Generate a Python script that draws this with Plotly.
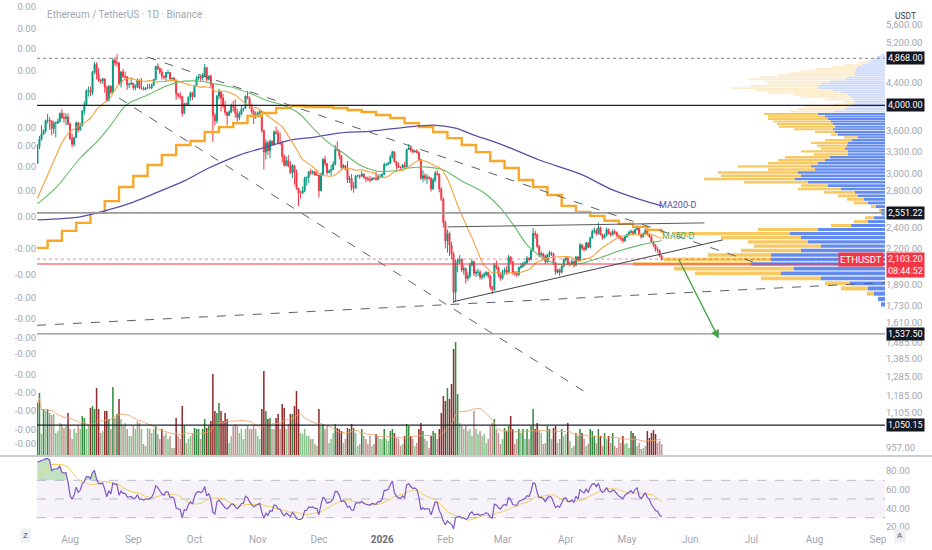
import numpy as np
import pandas as pd
import plotly.graph_objects as go

# ---------------- data: ETHUSDT 1D, Binance ----------------
start_day = "2025-07-16"
first_open = 3140

# Jun 26 -> Jul 15 2025, only used to warm up MA20 / RSI
pre_closes = [2420, 2420, 2435, 2500, 2485, 2405, 2570, 2590, 2505, 2515,
              2570, 2540, 2615, 2770, 2950, 2960, 2945, 2970, 3015, 3140]

closes = [
    3370, 3475, 3550, 3590, 3755, 3760, 3745, 3630, 3710, 3720, 3745, 3870, 3800, 3790, 3810, 3700,
    3480, 3400, 3495, 3720, 3610, 3680, 3910, 4010, 4255, 4260, 4220, 4600, 4750, 4550, 4440, 4430,
    4470, 4315, 4085, 4335, 4230, 4830, 4780, 4780, 4380, 4600, 4510, 4510, 4360, 4370, 4390,
    4310, 4330, 4450, 4300, 4300, 4275, 4305, 4310, 4305, 4350, 4460, 4710, 4670, 4600, 4520,
    4500, 4590, 4590, 4470, 4480, 4450, 4200, 4170, 4150, 3870, 4030, 4010, 4140, 4215, 4145,
    4350, 4480, 4515, 4490, 4515, 4685, 4460, 4525, 4370, 3835, 3750, 4160, 4240, 4125, 3990,
    3885, 3835, 3890, 3985, 3980, 3875, 3800, 3855, 3935, 3950, 4160, 4120, 3985, 3900, 3810, 3850,
    3875, 3900, 3600, 3290, 3420, 3310, 3440, 3395, 3580, 3560, 3420, 3410, 3230, 3110, 3175,
    3100, 3020, 3110, 3020, 2830, 2770, 2770, 2800, 2950, 2960, 3030, 3020, 3030, 2990, 2990,
    2800, 3000, 3190, 3135, 3020, 3040, 3060, 3130, 3325, 3320, 3240, 3085, 3110, 3060, 2930,
    2950, 2830, 2830, 2975, 2980, 2975, 3000, 2960, 2945, 2930, 2925, 2950, 2945, 2935, 2970, 2970,
    3000, 3125, 3125, 3140, 3225, 3295, 3160, 3110, 3085, 3080, 3115, 3090, 3325, 3350, 3320,
    3290, 3305, 3285, 3190, 2950, 2980, 2950, 2960, 2950, 2820, 2930, 3010, 3000, 2820, 2700, 2450,
    2270, 2340, 2230, 2150, 1830, 2070, 2090, 2100, 2010, 2020, 1940, 1960, 2050, 2080,
    1980, 1990, 1990, 1950, 1960, 1970, 1990, 1960, 1870, 1850, 2050, 2030, 1970, 1940,
    1990, 2010, 1990, 2120, 2080, 1990, 1980, 1970, 2030, 2040, 2060, 2070, 2110, 2100, 2180,
    2340, 2330, 2220, 2140, 2150, 2130, 2080, 2140, 2160, 2150, 2070, 1990, 2010, 1990, 2040, 2100,
    2110, 2060, 2060, 2080, 2050, 2120, 2090, 2230, 2200, 2190, 2250, 2210, 2300, 2360, 2370,
    2340, 2400, 2330, 2300, 2320, 2380, 2340, 2330, 2360, 2350, 2320, 2300, 2290, 2270, 2310,
    2330, 2350, 2360, 2340, 2380, 2400, 2330, 2310, 2340, 2370, 2330, 2310, 2260, 2230, 2190,
    2180, 2130, 2103.2,
]
highs = [
    3400, 3520, 3680, 3620, 3770, 3860, 3810, 3760, 3750, 3740, 3790, 3880, 3940, 3880, 3870, 3870,
    3720, 3550, 3510, 3740, 3730, 3720, 3920, 4070, 4280, 4330, 4330, 4620, 4790, 4790, 4680, 4475,
    4490, 4470, 4340, 4360, 4350, 4880, 4890, 4956, 4780, 4620, 4660, 4610, 4520, 4400, 4490,
    4400, 4370, 4480, 4460, 4490, 4330, 4320, 4380, 4380, 4380, 4470, 4720, 4770, 4690, 4670,
    4530, 4600, 4640, 4600, 4500, 4510, 4450, 4210, 4230, 4160, 4040, 4050, 4150, 4240, 4240,
    4360, 4520, 4550, 4520, 4580, 4755, 4700, 4530, 4550, 4390, 3880, 4180, 4290, 4210, 4200,
    4080, 3900, 3920, 4030, 4080, 4100, 3940, 3900, 3990, 3960, 4170, 4250, 4150, 4030, 3930, 3900,
    3900, 3920, 3910, 3610, 3470, 3450, 3470, 3460, 3600, 3660, 3610, 3570, 3450, 3260, 3230,
    3250, 3170, 3130, 3110, 3060, 2820, 2800, 2850, 2970, 2970, 3040, 3070, 3050, 3035, 3060,
    2990, 3020, 3210, 3240, 3140, 3060, 3120, 3170, 3390, 3440, 3320, 3250, 3130, 3110, 3170,
    2980, 3000, 2900, 2990, 2995, 2995, 3040, 3010, 2965, 2970, 2980, 2960, 2960, 3030, 3000, 3000,
    3010, 3150, 3140, 3160, 3250, 3310, 3300, 3170, 3150, 3100, 3130, 3160, 3340, 3400, 3370,
    3340, 3320, 3330, 3300, 3200, 3050, 3010, 3000, 2980, 2960, 2950, 3040, 3050, 3010, 2840, 2720,
    2470, 2380, 2360, 2260, 2170, 2100, 2110, 2140, 2110, 2050, 2030, 1990, 2070, 2100,
    2090, 2010, 2020, 2010, 1980, 1990, 2000, 1990, 1970, 1880, 2070, 2090, 2040, 1990,
    2010, 2030, 2040, 2140, 2130, 2090, 2000, 2000, 2040, 2070, 2080, 2090, 2130, 2120, 2190,
    2396, 2370, 2340, 2230, 2170, 2160, 2140, 2150, 2180, 2170, 2160, 2080, 2020, 2020, 2050, 2110,
    2130, 2120, 2080, 2100, 2090, 2130, 2130, 2250, 2240, 2220, 2260, 2260, 2310, 2380, 2400,
    2390, 2450, 2410, 2340, 2340, 2400, 2390, 2360, 2380, 2380, 2360, 2330, 2320, 2300, 2320,
    2340, 2370, 2380, 2370, 2390, 2420, 2410, 2340, 2350, 2390, 2380, 2340, 2320, 2270, 2240,
    2210, 2190, 2140,
]
lows = [
    3140, 3330, 3450, 3530, 3560, 3710, 3610, 3530, 3550, 3500, 3700, 3720, 3780, 3720, 3680, 3680,
    3460, 3355, 3370, 3490, 3570, 3600, 3660, 3850, 4000, 4150, 4160, 4180, 4570, 4460, 4410, 4380,
    4380, 4220, 4060, 4070, 4190, 4210, 4720, 4700, 4350, 4310, 4490, 4440, 4270, 4300, 4370,
    4270, 4260, 4300, 4280, 4270, 4260, 4260, 4280, 4290, 4280, 4340, 4440, 4640, 4560, 4460,
    4460, 4420, 4560, 4450, 4460, 4440, 4090, 4120, 4100, 3820, 3880, 3990, 3990, 4080, 4090,
    4140, 4340, 4450, 4430, 4440, 4500, 4420, 4440, 4300, 3435, 3680, 3710, 4100, 3900, 3950,
    3840, 3680, 3830, 3870, 3900, 3800, 3700, 3760, 3840, 3900, 3940, 4100, 3950, 3860, 3700, 3780,
    3850, 3840, 3570, 3057, 3190, 3250, 3210, 3380, 3380, 3540, 3410, 3390, 3150, 3100, 3120,
    3090, 3000, 2950, 2870, 2810, 2623, 2710, 2770, 2780, 2860, 2890, 2990, 2990, 2980, 2975,
    2720, 2790, 2980, 3100, 2990, 3010, 2980, 3050, 3110, 3300, 3190, 3060, 3080, 3050, 2890,
    2890, 2800, 2775, 2820, 2970, 2940, 2970, 2940, 2900, 2920, 2900, 2920, 2930, 2920, 2930, 2950,
    2960, 2990, 3100, 3110, 3130, 3200, 3150, 3060, 3080, 3070, 3075, 3080, 3090, 3320, 3290,
    3270, 3290, 3270, 3170, 2930, 2900, 2920, 2880, 2930, 2790, 2810, 2900, 2980, 2780, 2680, 2400,
    2200, 2160, 2130, 2100, 1750, 1760, 1990, 2060, 1990, 1970, 1900, 1920, 1940, 2040,
    1960, 1950, 1960, 1930, 1930, 1940, 1960, 1940, 1850, 1815, 1840, 2010, 1950, 1920,
    1930, 1970, 1970, 1980, 2060, 1970, 1960, 1950, 1960, 2020, 2030, 2040, 2060, 2080, 2090,
    2170, 2290, 2200, 2120, 2120, 2110, 2060, 2070, 2120, 2130, 2050, 1970, 1980, 1960, 1980, 2030,
    2080, 2050, 2040, 2050, 2030, 2040, 2080, 2080, 2180, 2170, 2180, 2200, 2200, 2290, 2340,
    2320, 2330, 2320, 2280, 2290, 2310, 2330, 2310, 2320, 2330, 2310, 2290, 2270, 2250, 2260,
    2300, 2320, 2340, 2320, 2330, 2370, 2320, 2290, 2300, 2330, 2320, 2300, 2250, 2210, 2170,
    2160, 2120, 2090,
]
# daily volume, thousand ETH
volumes = [
    1060, 1260, 440, 940, 900, 940, 860, 820, 840, 460, 500, 660, 640, 560, 600, 860,
    540, 340, 540, 460, 600, 540, 800, 760, 540, 600, 960, 1000, 940, 1360, 940, 460,
    500, 900, 900, 740, 540, 1380, 760, 840, 1140, 740, 600, 660, 540, 400, 400,
    600, 540, 700, 660, 540, 240, 200, 560, 540, 460, 540, 600, 440, 340, 540,
    400, 460, 340, 400, 160, 160, 760, 400, 340, 1000, 600, 260, 340, 400, 440,
    560, 540, 540, 340, 540, 740, 560, 600, 700, 1640, 900, 860, 1060, 900, 700,
    860, 740, 260, 400, 600, 640, 600, 460, 540, 340, 540, 600, 540, 540, 600, 540,
    400, 340, 940, 1700, 900, 740, 760, 540, 540, 760, 840, 540, 1040, 960, 540,
    640, 840, 840, 1000, 1300, 940, 460, 440, 540, 400, 400, 340, 340, 240, 200,
    940, 600, 640, 540, 600, 260, 340, 460, 640, 560, 540, 500, 260, 340, 560,
    540, 640, 560, 460, 200, 240, 540, 400, 340, 240, 400, 200, 240, 440, 400, 340,
    340, 540, 340, 300, 500, 540, 460, 360, 340, 200, 240, 400, 640, 600, 400,
    340, 200, 260, 540, 660, 500, 340, 300, 160, 400, 500, 460, 340, 540, 860, 1200,
    1100, 1360, 1140, 1440, 2140, 2280, 1240, 660, 600, 540, 600, 500, 540, 400,
    900, 540, 440, 500, 400, 440, 260, 340, 600, 660, 740, 540, 460, 240,
    340, 560, 500, 600, 800, 540, 240, 340, 540, 460, 540, 340, 540, 340, 600,
    940, 540, 660, 500, 460, 240, 260, 600, 540, 340, 560, 600, 260, 340, 540, 400,
    440, 660, 300, 160, 200, 460, 400, 540, 460, 340, 200, 240, 540, 500, 400,
    260, 540, 400, 200, 460, 340, 400, 260, 460, 200, 160, 340, 260, 400, 240,
    260, 160, 500, 460, 400, 200, 260, 140, 160, 200, 500, 360, 460, 520, 440,
    260, 300, 240,
]

# moving averages
ma50_dates = ["2025-07-16", "2025-07-25", "2025-08-06", "2025-08-14", "2025-08-21", "2025-08-27",
              "2025-08-30", "2025-09-08", "2025-09-16", "2025-09-23", "2025-10-03", "2025-10-09",
              "2025-10-19", "2025-10-29", "2025-11-05", "2025-11-13", "2025-11-21", "2025-11-29",
              "2025-12-06", "2025-12-13", "2025-12-21", "2025-12-29", "2026-01-06", "2026-01-14",
              "2026-01-23", "2026-01-31", "2026-02-09", "2026-02-20", "2026-02-28", "2026-03-07",
              "2026-03-13", "2026-03-20", "2026-03-27", "2026-04-02", "2026-04-10", "2026-04-19",
              "2026-04-29", "2026-05-08", "2026-05-18"]
ma50_vals = [2649, 2832, 3210, 3432, 3684, 3956, 4039, 4177, 4320, 4410, 4429, 4391, 4320, 4195,
             4090, 4006, 3874, 3608, 3417, 3277, 3117, 3040, 3040, 3078, 3090, 3053, 2916, 2773,
             2605, 2406, 2232, 2123, 2063, 2054, 2071, 2123, 2186, 2232, 2270]
ma200_dates = ["2025-07-16", "2025-08-06", "2025-08-18", "2025-09-01", "2025-09-12", "2025-09-26",
               "2025-10-08", "2025-10-23", "2025-11-05", "2025-11-17", "2025-11-29", "2025-12-11",
               "2025-12-27", "2026-01-13", "2026-01-26", "2026-02-06", "2026-02-15", "2026-02-28",
               "2026-03-19", "2026-04-08", "2026-04-24", "2026-05-08", "2026-05-18"]
ma200_vals = [2478, 2510, 2572, 2670, 2773, 2916, 3078, 3250, 3360, 3460, 3504, 3563, 3593, 3653,
              3684, 3638, 3533, 3403, 3183, 3003, 2808, 2693, 2627]
wk_start = "2025-07-14"
wk_vals = [2204, 2270, 2366, 2447, 2551, 2680, 2843, 2978, 3117, 3250, 3389, 3446, 3578, 3653,
           3715, 3826, 3874, 3956, 3990, 3972, 3972, 3956, 3923, 3890, 3842, 3794, 3715, 3653,
           3578, 3489, 3389, 3290, 3170, 3078, 2928, 2843, 2750, 2627, 2562, 2520, 2468, 2437,
           2406, 2376, 2347]

# visible range volume profile (rows of 40 USDT, low -> high)
vp_row = 40
vp_prices = np.arange(1740, 4941, vp_row)
vp_up = [4, 7, 11, 17, 35, 64, 104, 91, 134, 114, 114, 84, 64, 77, 84, 95, 67, 34, 17, 11,
         3, 4, 9, 17, 21, 27, 30, 44, 57, 77, 90, 84, 87, 70, 74, 67, 60, 55, 37, 37,
         40, 38, 37, 33, 27, 47, 50, 52, 50, 52, 54, 57, 60, 67, 50, 40, 38, 32, 30, 32,
         34, 37, 44, 52, 67, 66, 64, 55, 40, 36, 30, 30, 30, 29, 27, 22, 17, 14, 11, 8, 4]
vp_down = [0, 0, 7, 27, 25, 60, 86, 120, 118, 107, 63, 60, 67, 60, 80, 116, 60, 20, 14, 9,
           1, 2, 5, 14, 17, 20, 31, 43, 27, 64, 91, 80, 80, 47, 73, 50, 47, 45, 34, 47,
           24, 30, 37, 27, 14, 7, 20, 39, 56, 56, 58, 60, 57, 54, 45, 47, 42, 18, 11, 28,
           50, 54, 73, 78, 87, 69, 53, 65, 97, 89, 77, 65, 54, 41, 27, 18, 10, 4, 0, 0, 0]
va_top = 3880

# price levels / drawings
level_prices = [4868.00, 4000.00, 2551.22, 1537.50, 1050.15]
trend_dates = [("2025-09-08", "2026-07-03"), ("2025-08-25", "2026-04-13"),
               ("2025-07-15 19:00", "2026-09-04 12:00"),
               ("2026-02-02", "2026-06-08"), ("2026-02-05", "2026-06-17")]
trend_prices = [(4896, 2071), (4125, 1190), (1594, 1906), (2406, 2447), (1760, 2279)]
arrow_dates = ("2026-05-26", "2026-06-15")
arrow_prices = (2114, 1508)

right_ticks = [5600, 5200, 4400, 3600, 3300, 3000, 2800, 2400, 2200, 1890, 1730, 1610,
               1485, 1385, 1285, 1185, 1105, 957]
left_ticks = [6038, 5507, 5065, 4620, 4141, 3637, 3374, 3090, 2805, 2507,
              2200, 1966, 1786, 1636, 1516, 1418, 1299, 1200, 1113, 1032, 970]
left_text = ["0.00"] * 10 + ["-0.00"] * 11
month_ticks = pd.date_range("2025-08-01", "2026-09-01", freq="MS")
month_text = ["Aug", "Sep", "Oct", "Nov", "Dec", "2026", "Feb", "Mar", "Apr", "May",
              "Jun", "Jul", "Aug", "Sep"]
rsi_ticks = [20, 40, 60, 80]

# ---------------- derived series ----------------
n = len(closes)
assert len(highs) == n and len(lows) == n and len(volumes) == n
dates = pd.date_range(start_day, periods=n, freq="D")
opens = np.array([first_open] + closes[:-1], dtype=float)
closes_a = np.array(closes, dtype=float)
highs_a = np.maximum(np.array(highs, dtype=float), np.maximum(opens, closes_a))
lows_a = np.minimum(np.array(lows, dtype=float), np.minimum(opens, closes_a))

allc = pd.Series(pre_closes + closes, dtype=float)
ma20 = allc.rolling(20).mean().iloc[len(pre_closes):].to_numpy()
delta = allc.diff()
avg_gain = delta.clip(lower=0).ewm(alpha=1 / 14, adjust=False).mean()
avg_loss = (-delta.clip(upper=0)).ewm(alpha=1 / 14, adjust=False).mean()
rsi_all = 100 - 100 / (1 + avg_gain / avg_loss)
rsi_ma = rsi_all.rolling(14, min_periods=1).mean().iloc[len(pre_closes):].to_numpy()
rsi = rsi_all.iloc[len(pre_closes):].to_numpy()

vol = np.array(volumes, dtype=float)
vol_ma = pd.Series(vol).rolling(20, min_periods=1).mean().to_numpy()
up = closes_a >= opens
vol_colors = np.where(up, np.where(vol >= vol_ma, "rgba(30,125,45,0.9)", "rgba(95,175,100,0.75)"),
                      np.where(vol >= vol_ma, "rgba(130,22,22,0.9)", "rgba(170,100,100,0.7)"))

vp_total = np.array(vp_up) + np.array(vp_down)
poc_price = vp_prices[int(np.argmax(vp_total))]

# ---------------- figure ----------------
PX_W = 848                       # plot width in px (profile axis units)
LOG_LO, LOG_HI = 2.9650, 3.7936  # price axis range (log10)
MAIN_BOTTOM = 76 / 532
RSI_TOP = 74 / 532
FONT = "Roboto, 'Noto Sans', sans-serif"
GREY = "#a3a6af"

fig = go.Figure()

# volume profile
row_lo = np.log10(vp_prices - vp_row / 2)
row_hi = np.log10(vp_prices + vp_row / 2)
row_mid = (row_lo + row_hi) / 2
row_w = (row_hi - row_lo) * 0.78
in_va = vp_prices < va_top
fig.add_trace(go.Bar(
    y=row_mid, x=vp_up, base=0, width=row_w, orientation="h",
    marker=dict(color=np.where(in_va, "rgba(72,118,236,0.85)", "rgba(120,155,240,0.38)").tolist(),
                line_width=0),
    xaxis="x3", yaxis="y3", hoverinfo="skip"))
fig.add_trace(go.Bar(
    y=row_mid, x=vp_down, base=vp_up, width=row_w, orientation="h",
    marker=dict(color=np.where(in_va, "rgba(247,190,70,0.85)", "rgba(250,215,150,0.5)").tolist(),
                line_width=0),
    xaxis="x3", yaxis="y3", hoverinfo="skip"))

# volume
fig.add_trace(go.Bar(x=dates, y=vol, marker=dict(color=vol_colors.tolist(), line_width=0),
                     xaxis="x", yaxis="y2", hoverinfo="skip"))
fig.add_trace(go.Scatter(x=dates, y=vol_ma, mode="lines", line=dict(color="rgba(245,160,100,0.85)", width=1),
                         xaxis="x", yaxis="y2", hoverinfo="skip"))

# moving averages
fig.add_trace(go.Scatter(x=pd.date_range(wk_start, periods=len(wk_vals), freq="7D"), y=wk_vals,
                         mode="lines", line=dict(color="#f7a829", width=2.4, shape="hv"),
                         xaxis="x", yaxis="y", hoverinfo="skip"))
fig.add_trace(go.Scatter(x=ma200_dates, y=ma200_vals, mode="lines",
                         line=dict(color="#5a4ea6", width=1.3, shape="spline", smoothing=0.8),
                         xaxis="x", yaxis="y", hoverinfo="skip"))
fig.add_trace(go.Scatter(x=ma50_dates, y=ma50_vals, mode="lines",
                         line=dict(color="#66bb6a", width=1.1, shape="spline", smoothing=0.8),
                         xaxis="x", yaxis="y", hoverinfo="skip"))
fig.add_trace(go.Scatter(x=dates, y=ma20, mode="lines", line=dict(color="#f5a13c", width=1.1),
                         xaxis="x", yaxis="y", hoverinfo="skip"))

# candles
fig.add_trace(go.Candlestick(
    x=dates, open=opens, high=highs_a, low=lows_a, close=closes_a,
    increasing=dict(line=dict(color="#089981", width=1), fillcolor="#089981"),
    decreasing=dict(line=dict(color="#f23645", width=1), fillcolor="#f23645"),
    xaxis="x", yaxis="y", hoverinfo="skip"))

# invisible trace to carry the left scale
fig.add_trace(go.Scatter(x=[dates[0]], y=[closes[0]], mode="markers", marker=dict(opacity=0),
                         xaxis="x", yaxis="y4", hoverinfo="skip"))

# RSI pane
fig.add_trace(go.Scatter(x=dates, y=np.full(n, 70.0), mode="lines", line=dict(width=0),
                         xaxis="x2", yaxis="y5", hoverinfo="skip"))
fig.add_trace(go.Scatter(x=dates, y=np.maximum(rsi, 70), mode="lines", line=dict(width=0),
                         fill="tonexty", fillcolor="rgba(76,175,80,0.35)",
                         xaxis="x2", yaxis="y5", hoverinfo="skip"))
fig.add_trace(go.Scatter(x=dates, y=rsi_ma, mode="lines", line=dict(color="#f2cf5b", width=1),
                         xaxis="x2", yaxis="y5", hoverinfo="skip"))
fig.add_trace(go.Scatter(x=dates, y=rsi, mode="lines", line=dict(color="#7e57c2", width=1.2),
                         xaxis="x2", yaxis="y5", hoverinfo="skip"))

# RSI band
fig.add_shape(type="rect", xref="paper", x0=0, x1=1, yref="y5", y0=30, y1=70,
              fillcolor="rgba(126,87,194,0.08)", line_width=0, layer="below")
for lvl in (70, 50, 30):
    fig.add_shape(type="line", xref="paper", x0=0, x1=1, yref="y5", y0=lvl, y1=lvl,
                  line=dict(color="#b9b9c6", width=1, dash="dash"), layer="below")

# horizontal levels
level_styles = [("#9598a1", "dot", 1.3), ("#1e222d", "solid", 1.2), ("#9a9a9a", "solid", 1.6),
                ("#8f8f8f", "solid", 1.2), ("#1e222d", "solid", 1.3)]
for price, (col, dash, w) in zip(level_prices, level_styles):
    fig.add_shape(type="line", xref="paper", x0=0, x1=1, yref="y3",
                  y0=np.log10(price), y1=np.log10(price),
                  line=dict(color=col, dash=dash, width=w), layer="above")
fig.add_shape(type="line", xref="paper", x0=0, x1=1, yref="y3",
              y0=np.log10(poc_price), y1=np.log10(poc_price),
              line=dict(color="#f23645", width=1.1), layer="above")
fig.add_shape(type="line", xref="paper", x0=0, x1=1, yref="y3",
              y0=np.log10(closes[-1]), y1=np.log10(closes[-1]),
              line=dict(color="rgba(242,54,69,0.6)", width=1, dash="dot"), layer="above")

# trend lines
trend_styles = [("#5d606b", "dash"), ("#5d606b", "dash"), ("#5d606b", "dash"),
                ("#55585f", "solid"), ("#3f424a", "solid")]
for (d0, d1), (p0, p1), (col, dash) in zip(trend_dates, trend_prices, trend_styles):
    fig.add_shape(type="line", xref="x", yref="y3", x0=d0, x1=d1,
                  y0=np.log10(p0), y1=np.log10(p1),
                  line=dict(color=col, dash=dash, width=1), layer="above")

# projected move arrow
fig.add_annotation(x=arrow_dates[1], y=np.log10(arrow_prices[1]),
                   ax=arrow_dates[0], ay=np.log10(arrow_prices[0]),
                   xref="x", yref="y3", axref="x", ayref="y3", text="",
                   showarrow=True, arrowhead=2, arrowsize=1.3, arrowwidth=1.3, arrowcolor="#43a047")

# MA labels
fig.add_annotation(x="2026-05-26", y=np.log10(2638), xref="x", yref="y3", text="MA200-D",
                   showarrow=False, font=dict(family=FONT, size=9, color="#5a4ea6"))
fig.add_annotation(x="2026-05-26", y=np.log10(2318), xref="x", yref="y3", text="MA50-D",
                   showarrow=False, font=dict(family=FONT, size=9, color="#58a55c"))

# price scale labels
for price in level_prices:
    fig.add_annotation(x=1, xref="paper", xanchor="left", xshift=1, y=np.log10(price), yref="y3",
                       text=f"{price:,.2f}", showarrow=False, bgcolor="#131722", borderpad=1,
                       font=dict(family=FONT, size=9, color="white"))
fig.add_annotation(x=1, xref="paper", xanchor="left", xshift=1, y=np.log10(closes[-1]), yref="y3",
                   yanchor="top", yshift=7, text=f"{closes[-1]:,.2f}<br>08:44:52", showarrow=False,
                   bgcolor="#f23645", borderpad=1, align="left",
                   font=dict(family=FONT, size=9, color="white"))
fig.add_annotation(x=1, xref="paper", xanchor="right", xshift=-1, y=np.log10(closes[-1]), yref="y3",
                   text="ETHUSDT", showarrow=False, bgcolor="#f23645", borderpad=1,
                   font=dict(family=FONT, size=9.5, color="white"))

# chrome
fig.add_annotation(x=8 / PX_W, y=1 - 7 / 532, xref="paper", yref="paper", xanchor="left",
                   text="Ethereum / TetherUS · 1D · Binance", showarrow=False,
                   font=dict(family=FONT, size=10, color=GREY))
fig.add_annotation(x=1 + 20 / PX_W, y=1 - 9 / 532, xref="paper", yref="paper", xanchor="center",
                   text="USDT", showarrow=False, font=dict(family=FONT, size=8.5, color="#3d4049"))
fig.add_annotation(x=-17 / PX_W, y=-11 / 532, xref="paper", yref="paper", text="Z", showarrow=False,
                   bgcolor="#eef0f4", borderpad=2, font=dict(family=FONT, size=8, color="#50535e"))
fig.add_annotation(x=1 + 21 / PX_W, y=-11 / 532, xref="paper", yref="paper", text="A", showarrow=False,
                   bgcolor="#eef0f4", borderpad=2, font=dict(family=FONT, size=8, color="#50535e"))
fig.add_shape(type="line", xref="paper", yref="paper", x0=-37 / PX_W, x1=(932 - 37) / PX_W,
              y0=MAIN_BOTTOM, y1=MAIN_BOTTOM, line=dict(color="#c9cbd1", width=2))

tickfont = dict(family=FONT, size=9.5, color=GREY)
fig.update_layout(
    width=932, height=550, margin=dict(l=37, r=47, t=0, b=18),
    paper_bgcolor="white", plot_bgcolor="white", showlegend=False,
    barmode="overlay", bargap=0.25, hovermode=False,
    xaxis=dict(type="date", domain=[0, 1], anchor="y", range=["2025-07-15 19:00", "2026-09-04 12:00"],
               showticklabels=False, showgrid=False, zeroline=False, rangeslider=dict(visible=False)),
    xaxis2=dict(matches="x", anchor="y5", domain=[0, 1], tickmode="array", tickvals=month_ticks,
                ticktext=[f"<b><span style='color:#6b6e78'>{t}</span></b>" if t == "2026" else t
                          for t in month_text],
                tickfont=dict(family=FONT, size=10, color=GREY),
                showgrid=False, zeroline=False, ticks=""),
    xaxis3=dict(overlaying="x", anchor="y3", range=[PX_W, 0], visible=False),
    yaxis=dict(type="log", domain=[MAIN_BOTTOM, 1], anchor="x", side="right",
               range=[LOG_LO, LOG_HI], tickmode="array", tickvals=right_ticks,
               ticktext=[f"{v:,.2f}" for v in right_ticks], tickfont=tickfont,
               showgrid=False, zeroline=False, ticks=""),
    yaxis2=dict(overlaying="y", anchor="x", range=[0, 9120], visible=False),
    yaxis3=dict(overlaying="y", anchor="x3", range=[LOG_LO, LOG_HI], visible=False),
    yaxis4=dict(type="log", overlaying="y", anchor="x", side="left", range=[LOG_LO, LOG_HI],
                tickmode="array", tickvals=left_ticks, ticktext=left_text, tickfont=tickfont,
                showgrid=False, zeroline=False, ticks=""),
    yaxis5=dict(domain=[0, RSI_TOP], anchor="x2", side="right", range=[14.6, 93.9],
                tickmode="array", tickvals=rsi_ticks, ticktext=[f"{v:.2f}" for v in rsi_ticks],
                tickfont=tickfont, showgrid=False, zeroline=False, ticks=""),
)

# the page's default body margin would shift the chart by 8px
fig.write_html("out.html", config={"displayModeBar": False},
               post_script="document.body.style.margin='0px';")
